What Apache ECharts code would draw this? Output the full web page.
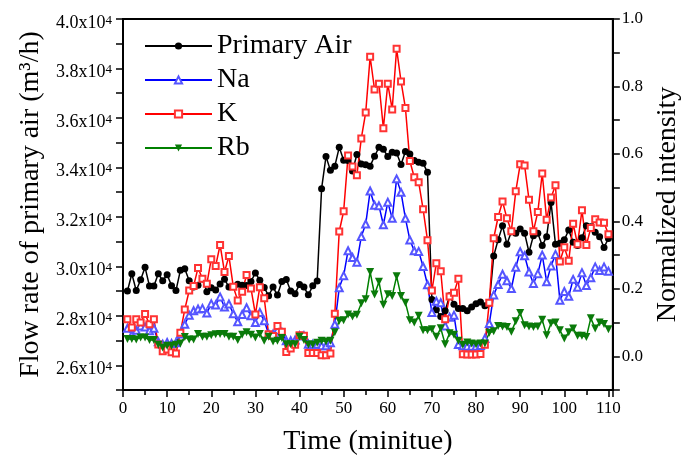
<!DOCTYPE html>
<html><head><meta charset="utf-8">
<script src="https://cdn.jsdelivr.net/npm/echarts@6/dist/echarts.min.js"></script>
<style>html,body{margin:0;padding:0;background:#fff}#c{width:690px;height:461px}</style>
</head><body><div id="c"></div>
<script>
// Time (minute)
const minutes = [1,2,3,4,5,6,7,8,9,10,11,12,13,14,15,16,17,18,19,20,21,22,23,24,25,26,27,28,29,30,
31,32,33,34,35,36,37,38,39,40,41,42,43,44,45,46,47,48,49,50,51,52,53,54,55,56,57,58,59,60,
61,62,63,64,65,66,67,68,69,70,71,72,73,74,75,76,77,78,79,80,81,82,83,84,85,86,87,88,89,90,
91,92,93,94,95,96,97,98,99,100,101,102,103,104,105,106,107,108,109,110];

// Primary air flow rate (m3/h), left axis
const primaryAir = [29000,29700,29020,29460,29960,29200,29200,29700,29420,29660,
29220,29020,29840,29900,29420,29160,29240,29490,28970,29130,
29040,29290,29480,29160,29180,29280,29240,29230,29390,29730,
29440,29140,28810,29160,28840,29390,29470,29000,28890,29270,
29160,28850,29210,29410,33140,34440,33880,34050,34810,34290,
34280,33850,34520,34140,34110,34050,34450,34810,34730,34440,
34610,34580,34120,34640,34540,34280,34210,34170,33800,28660,
28240,27970,28200,28810,28470,28300,28300,28200,28360,28490,
28560,28410,28510,30420,31070,31640,30890,31400,31340,31510,
31340,30570,31240,31340,30840,31200,32580,30890,30930,31070,
31470,30970,30840,31160,31640,31600,31380,31200,30760,31130];

// Normalized intensity, right axis
const na = [0.083,0.064,0.077,0.090,0.087,0.076,0.083,0.043,0.036,0.041,
0.038,0.040,0.066,0.095,0.122,0.135,0.140,0.142,0.128,0.156,
0.152,0.176,0.146,0.155,0.126,0.102,0.124,0.144,0.120,0.100,
0.130,0.105,0.066,0.066,0.077,0.071,0.046,0.046,0.048,0.061,
0.061,0.036,0.036,0.036,0.031,0.031,0.040,0.095,0.203,0.239,
0.313,0.293,0.279,0.355,0.392,0.490,0.448,0.446,0.390,0.457,
0.409,0.526,0.486,0.409,0.345,0.313,0.311,0.266,0.212,0.130,
0.163,0.159,0.090,0.116,0.122,0.035,0.031,0.030,0.030,0.030,
0.032,0.053,0.097,0.182,0.213,0.243,0.224,0.201,0.264,0.310,
0.298,0.250,0.216,0.245,0.300,0.221,0.268,0.302,0.166,0.192,
0.178,0.228,0.205,0.248,0.210,0.233,0.265,0.254,0.265,0.252];

const k = [0.110,0.085,0.110,0.100,0.125,0.095,0.110,0.035,0.015,0.020,
0.012,0.008,0.070,0.139,0.195,0.208,0.262,0.230,0.215,0.288,
0.268,0.330,0.250,0.297,0.206,0.165,0.191,0.241,0.201,0.124,
0.205,0.172,0.065,0.060,0.090,0.073,0.013,0.023,0.034,0.062,
0.061,0.010,0.010,0.010,0.003,0.003,0.008,0.126,0.370,0.430,
0.595,0.563,0.537,0.646,0.723,0.888,0.791,0.808,0.676,0.808,
0.732,0.912,0.815,0.736,0.579,0.531,0.516,0.436,0.344,0.195,
0.276,0.252,0.110,0.177,0.188,0.230,0.006,0.005,0.005,0.005,
0.007,0.034,0.159,0.350,0.413,0.459,0.409,0.371,0.489,0.569,
0.566,0.464,0.371,0.428,0.542,0.405,0.471,0.507,0.281,0.323,
0.283,0.393,0.332,0.433,0.330,0.380,0.406,0.397,0.396,0.362];

const rb = [0.051,0.051,0.050,0.056,0.056,0.048,0.048,0.034,0.026,0.031,
0.031,0.034,0.038,0.057,0.050,0.050,0.066,0.058,0.058,0.062,
0.065,0.066,0.066,0.058,0.058,0.048,0.064,0.071,0.064,0.056,
0.066,0.046,0.058,0.044,0.046,0.054,0.036,0.036,0.036,0.058,
0.048,0.035,0.035,0.040,0.046,0.044,0.046,0.071,0.105,0.107,
0.124,0.118,0.123,0.157,0.169,0.250,0.183,0.221,0.153,0.184,
0.179,0.237,0.179,0.159,0.107,0.100,0.120,0.077,0.077,0.080,
0.058,0.083,0.036,0.068,0.064,0.046,0.034,0.041,0.038,0.036,
0.038,0.038,0.070,0.074,0.090,0.088,0.087,0.073,0.104,0.128,
0.092,0.088,0.087,0.088,0.108,0.062,0.098,0.100,0.077,0.053,
0.071,0.082,0.061,0.061,0.057,0.113,0.082,0.100,0.096,0.080];

const seriesNames = ['Primary Air','Na','K','Rb'];
const xTitle = 'Time (minitue)';
const yLeftTitle = 'Flow rate of primary air (m\u00B3/h)';
const yRightTitle = 'Normalized intensity';

const FONT = '"Liberation Serif","Times New Roman",serif';
const pair = arr => minutes.map((t, i) => [t, arr[i]]);

const chart = echarts.init(document.getElementById('c'), null, {renderer: 'canvas'});
const axisCommon = {
  axisLine: {show: true, onZero: false, lineStyle: {color: '#000', width: 2}},
  axisTick: {show: true, inside: false, length: 7, lineStyle: {color: '#000', width: 1.5}},
  splitLine: {show: false},
  nameTextStyle: {fontFamily: FONT, fontSize: 28, color: '#000'}
};
chart.setOption({
  animation: false,
  backgroundColor: '#fff',
  grid: {left: 123, right: 68, top: 19, bottom: 68, show: true, borderColor: '#000', borderWidth: 2},
  legend: {
    orient: 'vertical', left: 139, top: 27, itemWidth: 67, itemHeight: 9, itemGap: 6,
    textStyle: {fontFamily: FONT, fontSize: 28, color: '#000'},
    data: seriesNames
  },
  xAxis: Object.assign({}, axisCommon, {
    type: 'value', min: 0, max: 111, interval: 10,
    minorTick: {show: true, splitNumber: 2, length: 5, lineStyle: {color: '#000', width: 1.5}},
    name: xTitle, nameLocation: 'middle', nameGap: 38,
    axisLabel: {fontFamily: FONT, fontSize: 17, color: '#000', margin: 10, showMaxLabel: false,
      formatter: v => (v % 10 === 0 ? String(v) : '')}
  }),
  yAxis: [
    Object.assign({}, axisCommon, {
      type: 'value', position: 'left', min: 25000, max: 40000, interval: 1000,
      name: yLeftTitle, nameLocation: 'middle', nameRotate: 90, nameGap: 78,
      axisLabel: {margin: 11, padding: [8, 0, 0, 0],
        formatter: v => (v % 2000 === 0 && v >= 26000) ? '{m|' + (v / 10000).toFixed(1) + 'x10}{s|4}' : '',
        rich: {
          m: {fontFamily: FONT, fontSize: 18, color: '#000', lineHeight: 18, verticalAlign: 'bottom'},
          s: {fontFamily: FONT, fontSize: 13, color: '#000', lineHeight: 13, verticalAlign: 'top'}
        },
        lineHeight: 21
      }
    }),
    Object.assign({}, axisCommon, {
      type: 'value', position: 'right', min: -0.1, max: 1.0, interval: 0.1,
      name: yRightTitle, nameLocation: 'middle', nameRotate: 90, nameGap: 40,
      axisLabel: {fontFamily: FONT, fontSize: 17, color: '#000', margin: 9,
        formatter: v => { const n = Math.round(v * 10); return (n % 2 === 0 && n >= 0) ? (n / 10).toFixed(1) : ''; }}
    })
  ],
  series: [
    {name: seriesNames[0], type: 'line', yAxisIndex: 0, data: pair(primaryAir),
     symbol: 'circle', symbolSize: 7, showAllSymbol: true,
     lineStyle: {color: '#000', width: 1.5}, itemStyle: {color: '#000'}},
    {name: seriesNames[1], type: 'line', yAxisIndex: 1, data: pair(na),
     symbol: 'emptyTriangle', symbolSize: 7, showAllSymbol: true,
     lineStyle: {color: '#0000ff', width: 1.5}, itemStyle: {color: '#5555ff', borderWidth: 1}},
    {name: seriesNames[2], type: 'line', yAxisIndex: 1, data: pair(k),
     symbol: 'emptyRect', symbolSize: 6, showAllSymbol: true,
     lineStyle: {color: '#ff0000', width: 1.5}, itemStyle: {color: '#ff3333', borderWidth: 1}},
    {name: seriesNames[3], type: 'line', yAxisIndex: 1, data: pair(rb),
     symbol: 'triangle', symbolRotate: 180, symbolSize: 8, showAllSymbol: true,
     lineStyle: {color: '#008000', width: 1.5}, itemStyle: {color: '#0a7a0a'}}
  ]
});
</script></body></html>
